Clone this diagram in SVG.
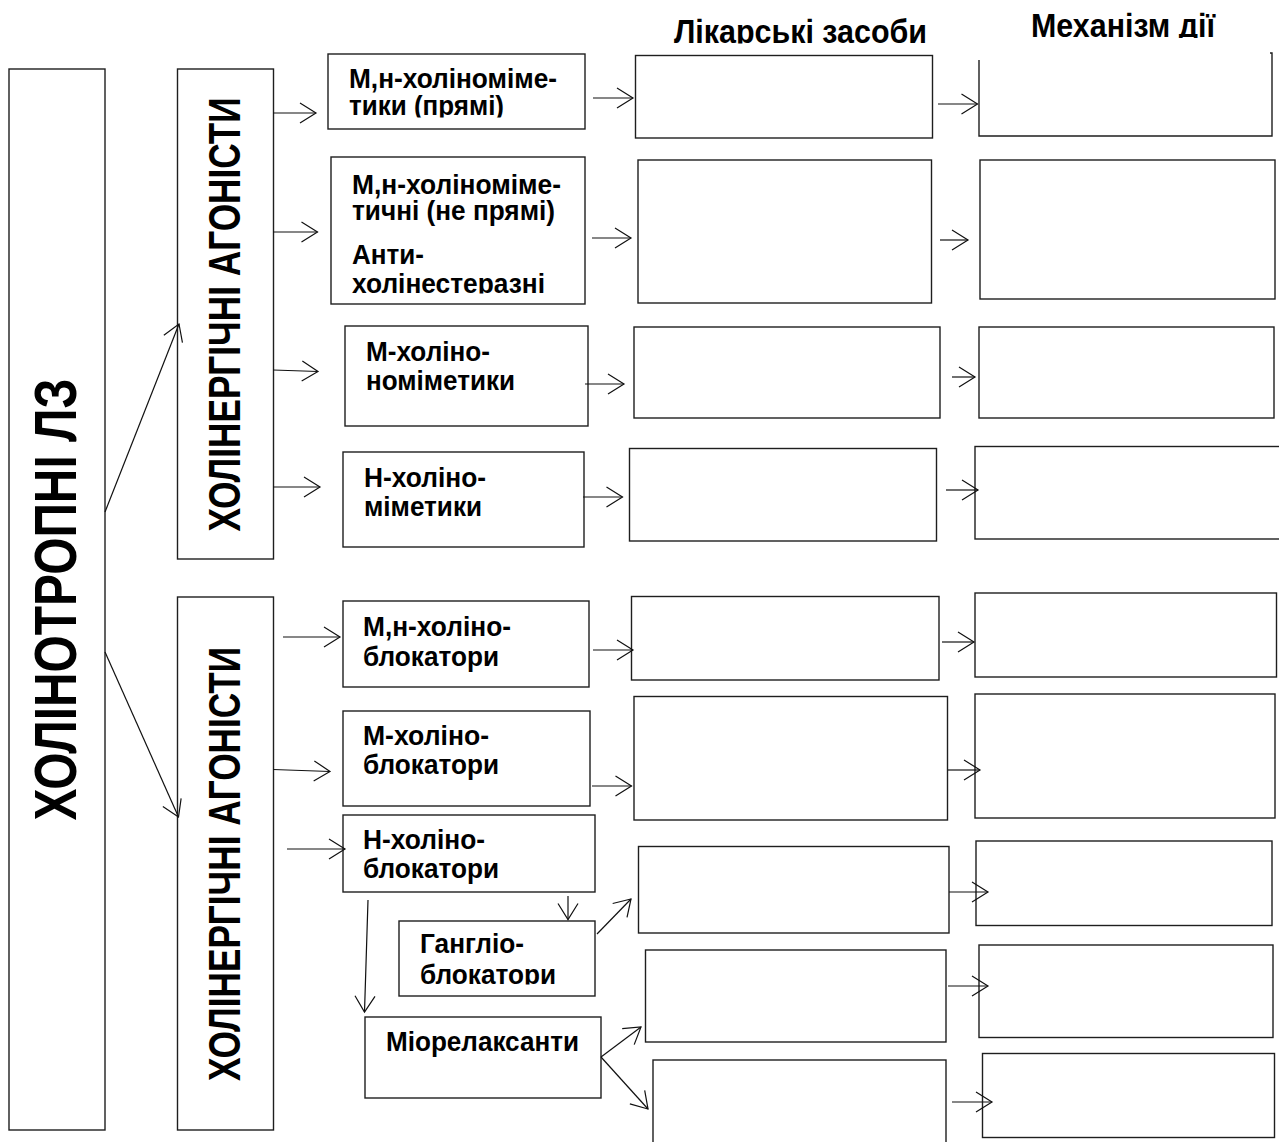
<svg xmlns="http://www.w3.org/2000/svg" width="1279" height="1142" viewBox="0 0 1279 1142">
<style>
.box{fill:#fff;stroke:#1e1e1e;stroke-width:1.4}
.open{fill:none;stroke:#1e1e1e;stroke-width:1.4}
.c{fill:none;stroke:#111;stroke-width:1.2;marker-end:url(#ah)}
.t{font-family:"Liberation Sans",Arial,sans-serif;font-weight:bold;fill:#000}
.lb{font-size:28px}
.tt{font-size:34px}
</style>
<defs>
<marker id="ah" viewBox="-18 -12 20 24" markerWidth="20" markerHeight="24" refX="0" refY="0" orient="auto" markerUnits="userSpaceOnUse" overflow="visible">
<path d="M-16,-10 L0,0 L-16,10" fill="none" stroke="#111" stroke-width="1.2"/>
</marker>
<clipPath id="cpT1"><rect x="600" y="0" width="360" height="43.5"/></clipPath>
<clipPath id="cpT2"><rect x="1000" y="0" width="279" height="38"/></clipPath>
<clipPath id="cpA1"><rect x="328" y="54" width="257" height="63.5"/></clipPath>
<clipPath id="cpB1"><rect x="331" y="157" width="254" height="136.5"/></clipPath>
<clipPath id="cpH1"><rect x="399" y="921" width="196" height="63.5"/></clipPath>
</defs>
<rect width="1279" height="1142" fill="#fff"/>

<g id="title-likarski">
<text class="t tt" x="674" y="43" textLength="253" lengthAdjust="spacingAndGlyphs" clip-path="url(#cpT1)">Лікарські засоби</text>
</g>
<g id="title-mekhanizm">
<text class="t tt" x="1031" y="37" textLength="184" lengthAdjust="spacingAndGlyphs" clip-path="url(#cpT2)">Механізм дії</text>
</g>

<g id="cholinotropic">
<rect class="box" x="9" y="69" width="96" height="1061"/>
<text class="t" font-size="60" transform="translate(76,599.5) rotate(-90)" x="-221" y="0" textLength="442" lengthAdjust="spacingAndGlyphs">ХОЛІНОТРОПНІ ЛЗ</text>
</g>
<g id="agonists">
<rect class="box" x="177.5" y="69" width="96" height="490"/>
<text class="t" font-size="45" transform="translate(240,314.5) rotate(-90)" x="-217" y="0" textLength="434" lengthAdjust="spacingAndGlyphs">ХОЛІНЕРГІЧНІ АГОНІСТИ</text>
</g>
<g id="antagonists">
<rect class="box" x="177.5" y="597" width="96" height="533"/>
<text class="t" font-size="45" transform="translate(240,864) rotate(-90)" x="-217" y="0" textLength="434" lengthAdjust="spacingAndGlyphs">ХОЛІНЕРГІЧНІ АГОНІСТИ</text>
</g>

<g id="mn-mimetics-direct">
<rect class="box" x="328" y="54" width="257" height="75"/>
<g clip-path="url(#cpA1)">
<text class="t lb" x="349" y="88" textLength="208" lengthAdjust="spacingAndGlyphs">М,н-холіноміме-</text>
<text class="t lb" x="349" y="115" textLength="155" lengthAdjust="spacingAndGlyphs">тики (прямі)</text>
</g>
</g>
<g id="mn-mimetics-indirect">
<rect class="box" x="331" y="157" width="254" height="147"/>
<g clip-path="url(#cpB1)">
<text class="t lb" x="352" y="194" textLength="209" lengthAdjust="spacingAndGlyphs">М,н-холіноміме-</text>
<text class="t lb" x="352" y="220" textLength="203" lengthAdjust="spacingAndGlyphs">тичні (не прямі)</text>
<text class="t lb" x="352" y="264" textLength="72" lengthAdjust="spacingAndGlyphs">Анти-</text>
<text class="t lb" x="352" y="293" textLength="193" lengthAdjust="spacingAndGlyphs">холінестеразні</text>
</g>
</g>
<g id="m-mimetics">
<rect class="box" x="345" y="326" width="243" height="100"/>
<text class="t lb" x="366" y="361" textLength="124" lengthAdjust="spacingAndGlyphs">М-холіно-</text>
<text class="t lb" x="366" y="390" textLength="149" lengthAdjust="spacingAndGlyphs">номіметики</text>
</g>
<g id="n-mimetics">
<rect class="box" x="343" y="452" width="241" height="95"/>
<text class="t lb" x="364" y="487" textLength="122" lengthAdjust="spacingAndGlyphs">Н-холіно-</text>
<text class="t lb" x="364" y="516" textLength="118" lengthAdjust="spacingAndGlyphs">міметики</text>
</g>
<g id="mn-blockers">
<rect class="box" x="343" y="601" width="246" height="86"/>
<text class="t lb" x="363" y="636" textLength="148" lengthAdjust="spacingAndGlyphs">М,н-холіно-</text>
<text class="t lb" x="363" y="666" textLength="136" lengthAdjust="spacingAndGlyphs">блокатори</text>
</g>
<g id="m-blockers">
<rect class="box" x="343" y="711" width="247" height="95"/>
<text class="t lb" x="363" y="745" textLength="126" lengthAdjust="spacingAndGlyphs">М-холіно-</text>
<text class="t lb" x="363" y="774" textLength="136" lengthAdjust="spacingAndGlyphs">блокатори</text>
</g>
<g id="n-blockers">
<rect class="box" x="343" y="815" width="252" height="77"/>
<text class="t lb" x="363" y="849" textLength="122" lengthAdjust="spacingAndGlyphs">Н-холіно-</text>
<text class="t lb" x="363" y="878" textLength="136" lengthAdjust="spacingAndGlyphs">блокатори</text>
</g>
<g id="ganglioblockers">
<rect class="box" x="399" y="921" width="196" height="75"/>
<g clip-path="url(#cpH1)">
<text class="t lb" x="420" y="953" textLength="104" lengthAdjust="spacingAndGlyphs">Гангліо-</text>
<text class="t lb" x="420" y="984" textLength="136" lengthAdjust="spacingAndGlyphs">блокатори</text>
</g>
</g>
<g id="myorelaxants">
<rect class="box" x="365" y="1017" width="236" height="81"/>
<text class="t lb" x="386" y="1051" textLength="193" lengthAdjust="spacingAndGlyphs">Міорелаксанти</text>
</g>

<g id="drugs-1"><rect class="box" x="635.5" y="55.5" width="297" height="82.5"/></g>
<g id="drugs-2"><rect class="box" x="638" y="160" width="293.5" height="143"/></g>
<g id="drugs-3"><rect class="box" x="634" y="327" width="306" height="91"/></g>
<g id="drugs-4"><rect class="box" x="629.5" y="448.5" width="307" height="92.5"/></g>
<g id="drugs-5"><rect class="box" x="631.5" y="596.5" width="307.5" height="83.5"/></g>
<g id="drugs-6"><rect class="box" x="634" y="696.5" width="313.5" height="123.5"/></g>
<g id="drugs-7"><rect class="box" x="638.5" y="846.5" width="310.5" height="86.5"/></g>
<g id="drugs-8"><rect class="box" x="645.5" y="950" width="300.5" height="92"/></g>
<g id="drugs-9"><rect class="box" x="653" y="1060" width="293" height="95"/></g>

<g id="mech-1"><path class="open" d="M979,60 V136 H1272 V53 H1270"/></g>
<g id="mech-2"><rect class="box" x="980" y="160" width="295" height="139"/></g>
<g id="mech-3"><rect class="box" x="979" y="327" width="295" height="91"/></g>
<g id="mech-4"><rect class="box" x="975" y="446.5" width="310" height="92.5"/></g>
<g id="mech-5"><rect class="box" x="975" y="593" width="301.5" height="84"/></g>
<g id="mech-6"><rect class="box" x="975" y="694" width="300" height="124"/></g>
<g id="mech-7"><rect class="box" x="976" y="841" width="296" height="84.5"/></g>
<g id="mech-8"><rect class="box" x="979" y="945" width="294" height="92.5"/></g>
<g id="mech-9"><rect class="box" x="982.5" y="1053.5" width="292" height="84"/></g>

<g id="connectors">
<line class="c" x1="105" y1="512" x2="179" y2="324"/>
<line class="c" x1="105" y1="652" x2="178.5" y2="817"/>
<line class="c" x1="273" y1="113" x2="316" y2="113"/>
<line class="c" x1="273" y1="232" x2="317.5" y2="232"/>
<line class="c" x1="273" y1="370" x2="318" y2="371.5"/>
<line class="c" x1="273" y1="487" x2="320" y2="487"/>
<line class="c" x1="283" y1="637" x2="340" y2="637"/>
<line class="c" x1="273" y1="769.5" x2="330" y2="771.5"/>
<line class="c" x1="287" y1="849" x2="345" y2="849"/>
<line class="c" x1="593" y1="98" x2="633" y2="98"/>
<line class="c" x1="592" y1="238" x2="631" y2="238"/>
<line class="c" x1="585" y1="384" x2="624" y2="384"/>
<line class="c" x1="583" y1="497" x2="622.5" y2="497"/>
<line class="c" x1="593" y1="650" x2="633" y2="650"/>
<line class="c" x1="592" y1="786" x2="631.5" y2="786"/>
<line class="c" x1="568" y1="896" x2="568" y2="919.5"/>
<line class="c" x1="368" y1="900" x2="364.5" y2="1012"/>
<line class="c" x1="597" y1="934" x2="631" y2="899"/>
<line class="c" x1="601" y1="1057" x2="641" y2="1027"/>
<line class="c" x1="601" y1="1057" x2="648" y2="1109"/>
<line class="c" x1="938" y1="104" x2="977.5" y2="104"/>
<line class="c" x1="940" y1="240" x2="968" y2="240"/>
<line class="c" x1="952" y1="377" x2="975" y2="377"/>
<line class="c" x1="946" y1="490" x2="978" y2="490"/>
<line class="c" x1="942" y1="642" x2="974" y2="642"/>
<line class="c" x1="948" y1="770" x2="980" y2="770"/>
<line class="c" x1="949" y1="892" x2="988" y2="892"/>
<line class="c" x1="948" y1="986" x2="988" y2="986"/>
<line class="c" x1="952" y1="1102" x2="992" y2="1102"/>
</g>
</svg>
